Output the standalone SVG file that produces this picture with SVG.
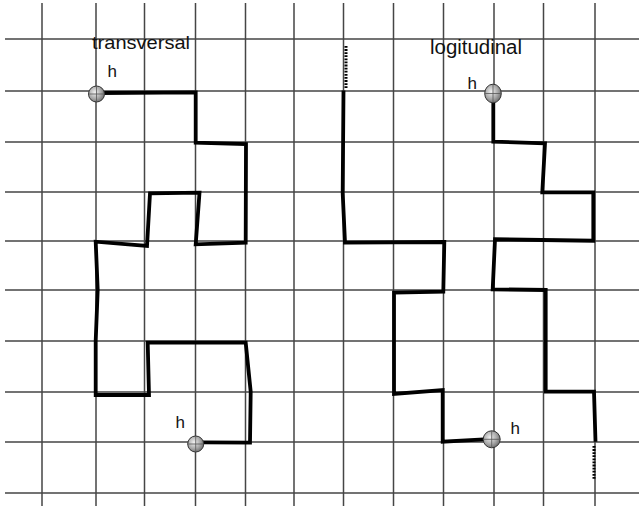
<svg xmlns="http://www.w3.org/2000/svg" width="639" height="506" viewBox="0 0 639 506">
<defs>
<radialGradient id="ball" cx="0.4" cy="0.4" r="0.65">
<stop offset="0" stop-color="#f2f2f2"/>
<stop offset="0.6" stop-color="#a8a8a8"/>
<stop offset="1" stop-color="#6a6a6a"/>
</radialGradient>
<style>
.grid line{stroke:#454545;stroke-width:1.5}
.walk{fill:none;stroke:#000;stroke-width:3.8;stroke-linejoin:miter}
.dot{fill:none;stroke:#000;stroke-width:3;stroke-dasharray:1.8 1.3}
.ball{fill:url(#ball);stroke:#333;stroke-width:1}
.ball-x{stroke:#555;stroke-width:0.8}
.lbl{font-family:"Liberation Sans",Arial,sans-serif;fill:#111}
</style>
</defs>
<rect width="639" height="506" fill="#fff"/>
<g id="grid" class="grid">
<line x1="42" y1="3" x2="42" y2="506"/>
<line x1="96" y1="3" x2="96" y2="506"/>
<line x1="144.5" y1="3" x2="144.5" y2="506"/>
<line x1="195.5" y1="3" x2="195.5" y2="506"/>
<line x1="245.5" y1="3" x2="245.5" y2="506"/>
<line x1="294" y1="3" x2="294" y2="506"/>
<line x1="343.5" y1="3" x2="343.5" y2="506"/>
<line x1="393.5" y1="3" x2="393.5" y2="506"/>
<line x1="443.5" y1="3" x2="443.5" y2="506"/>
<line x1="494" y1="3" x2="494" y2="506"/>
<line x1="543.5" y1="3" x2="543.5" y2="506"/>
<line x1="595" y1="3" x2="595" y2="506"/>
<line x1="5" y1="39" x2="639" y2="39"/>
<line x1="5" y1="91" x2="639" y2="91"/>
<line x1="5" y1="142" x2="639" y2="142"/>
<line x1="5" y1="192" x2="639" y2="192"/>
<line x1="5" y1="241" x2="639" y2="241"/>
<line x1="5" y1="290" x2="639" y2="290"/>
<line x1="5" y1="341" x2="639" y2="341"/>
<line x1="5" y1="392" x2="639" y2="392"/>
<line x1="5" y1="442" x2="639" y2="442"/>
<line x1="5" y1="493" x2="639" y2="493"/>
</g>
<g id="connectors">
<polyline id="transversal-walk" class="walk" points="100,93 195.7,92.3 195.7,142.7 246,144 245.7,242.7 195.7,244.3 199.5,192.7 150,193.3 147,246 95.7,241.7 97.7,290 95.7,340.7 95.7,395 149,395 147.7,342.7 245.7,342.7 250.7,391.7 250,442.7 202,442.3"/>
<line class="dot" x1="346" y1="46" x2="346" y2="89"/>
<polyline id="longitudinal-left" class="walk" points="343.5,90.5 342.7,193.3 345,242.7 444.3,242 443.3,291.7 394,292.7 394,394 442.7,390 442.7,441.7 484,439.3"/>
<polyline id="longitudinal-right" class="walk" points="493.3,101 493.3,141.7 545,143.3 542.3,192.3 593.3,192.3 593.3,240.7 495,239.3 492.7,289.3 545.7,290 545.7,391.7 594,391.7 595.5,441.7"/>
<line class="dot" x1="594" y1="446" x2="594" y2="479"/>
</g>
<g id="head-t1"><circle class="ball" cx="96.5" cy="94" r="8"/><line class="ball-x" x1="88.5" y1="94" x2="104.5" y2="94"/><line class="ball-x" x1="96.5" y1="86" x2="96.5" y2="102"/><text class="lbl" x="107.5" y="77" font-size="17">h</text></g>
<g id="head-t2"><circle class="ball" cx="195.7" cy="444" r="8"/><line class="ball-x" x1="187.7" y1="444" x2="203.7" y2="444"/><line class="ball-x" x1="195.7" y1="436" x2="195.7" y2="452"/><text class="lbl" x="175.5" y="427.5" font-size="17">h</text></g>
<g id="head-l1"><ellipse class="ball" cx="493" cy="93.5" rx="8.3" ry="9.3"/><line class="ball-x" x1="484.7" y1="93.5" x2="501.3" y2="93.5"/><line class="ball-x" x1="493" y1="84.2" x2="493" y2="102.8"/><text class="lbl" x="467.5" y="88.5" font-size="17">h</text></g>
<g id="head-l2"><circle class="ball" cx="491.7" cy="439.3" r="8.5"/><line class="ball-x" x1="483.2" y1="439.3" x2="500.2" y2="439.3"/><line class="ball-x" x1="491.7" y1="430.8" x2="491.7" y2="447.8"/><text class="lbl" x="510.5" y="434" font-size="17">h</text></g>
<g id="title-transversal"><text class="lbl" x="92" y="49" font-size="19" textLength="98" lengthAdjust="spacingAndGlyphs">transversal</text></g>
<g id="title-longitudinal"><text class="lbl" x="430" y="54" font-size="20" textLength="92" lengthAdjust="spacingAndGlyphs">logitudinal</text></g>
</svg>
